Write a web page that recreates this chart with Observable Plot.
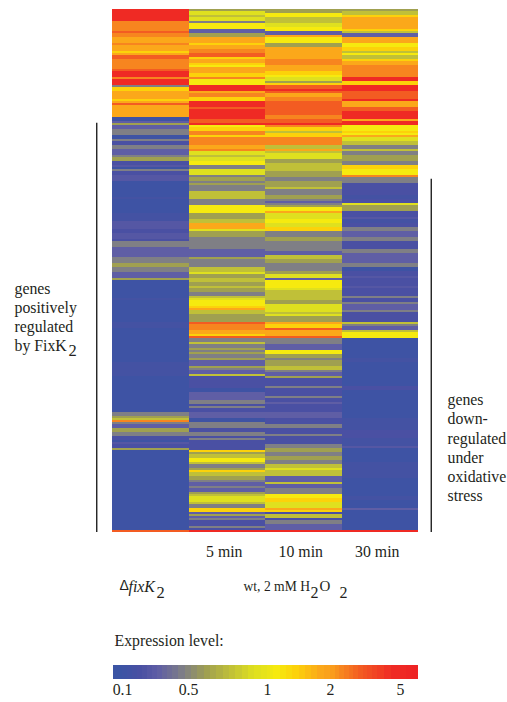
<!DOCTYPE html>
<html>
<head>
<meta charset="utf-8">
<script src="https://cdn.jsdelivr.net/npm/d3@7"></script>
<script src="https://cdn.jsdelivr.net/npm/@observablehq/plot@0.6"></script>
<style>
html,body{margin:0;padding:0;background:#fff}
svg{display:block}
</style>
</head>
<body>
<script>
// expression levels used for reading the picture
const B=0.1,D=0.15,P=0.2,U=0.25,V=0.3,G=0.45,O=0.6,K=0.75,L=0.9,Y=1.1,H=1.4,A=1.8,N=2.4,T=3.2,R=4.5;

const columns=["ΔfixK2","5 min","10 min","30 min"];
const timeLabels=["5 min","10 min","30 min"];
const rowCount=262;

// [first row, expression level] runs, top to bottom
const fixK2Runs=[[0,R],[6,N],[11,T],[12,N],[14,A],[17,N],[18,A],[21,H],[22,A],[23,T],[25,N],[30,T],[31,R],[34,N],[35,R],[38,G],[39,H],[41,A],[45,H],[46,A],[47,T],[48,A],[54,B],[56,V],[57,O],[58,V],[60,G],
[63,B],[65,G],[66,P],[68,G],[70,V],[73,G],[74,O],[76,P],[78,U],[79,B],[80,G],[81,P],[83,U],[86,B],[94,D],[95,B],[102,D],[106,U],[110,P],[112,U],[115,P],[116,G],[119,V],[124,G],[127,O],[129,G],
[132,V],[135,O],[136,B],[145,D],[146,B],[157,D],[160,B],[177,D],[184,B],[202,G],[204,O],[205,K],[206,N],[207,G],[208,V],[210,O],[212,G],[214,P],[216,B],[217,U],[218,P],[220,O],[221,B],[261,T]];

const min5Runs=[[0,O],[1,L],[3,K],[4,L],[6,G],[7,Y],[10,V],[12,O],[14,A],[17,H],[18,A],[20,N],[22,T],[24,H],[25,A],[27,H],[28,Y],[29,A],[32,H],[34,N],[35,Y],[38,R],[41,A],[42,N],[44,H],[46,R],[49,T],[50,R],[55,T],[57,R],[58,Y],[59,H],[61,N],
[63,H],[64,N],[68,A],[70,N],[71,L],[73,K],[74,L],[76,Y],[78,G],[80,L],[83,G],[84,O],[86,G],[87,O],[88,G],[91,K],[95,G],[98,Y],[102,O],[105,K],[107,A],[110,L],[111,O],[114,G],[120,V],[122,V],[124,O],[125,G],[129,K],
[132,L],[133,O],[135,K],[137,O],[139,K],[140,O],[142,G],[144,K],[145,L],[146,Y],[149,H],[150,A],[151,K],[153,O],[157,T],[158,N],[161,A],[163,H],[164,T],[165,G],[167,K],[168,G],[170,O],[171,G],[172,O],[173,G],[175,O],[176,V],[179,O],[180,G],[181,V],[183,K],[184,P],[190,B],[192,V],[196,G],
[198,P],[199,G],[200,P],[202,V],[205,B],[207,G],[210,P],[212,G],[214,P],[215,G],[216,P],[221,H],[222,O],[223,K],[225,Y],[227,K],[228,G],[230,O],[231,H],[232,K],[234,O],[236,G],[237,V],[239,G],[240,V],[242,O],[243,K],[244,L],[247,K],[248,G],[250,H],[252,V],[253,O],[254,V],[255,G],[256,P],[259,G],[260,P],[261,R]];

const min10Runs=[[0,O],[2,Y],[4,K],[7,L],[9,Y],[11,V],[13,A],[14,Y],[17,O],[19,A],[25,N],[28,A],[31,H],[33,Y],[34,L],[36,O],[37,H],[38,T],[40,R],[41,T],[42,A],[44,N],[46,T],[53,N],[55,T],[57,R],[58,N],[59,H],[61,K],[62,H],
[64,N],[68,K],[70,A],[71,K],[72,L],[75,O],[77,K],[81,O],[84,G],[86,O],[89,K],[90,G],[93,O],[95,G],[96,V],[97,G],[98,O],[99,Y],[101,A],[102,L],[105,Y],[107,L],[109,H],[111,G],[114,O],[116,G],[121,V],[123,K],[125,O],[127,G],
[131,O],[133,L],[135,V],[136,Y],[140,L],[141,K],[145,K],[146,O],[148,L],[152,K],[153,L],[154,O],[157,A],[158,H],[160,T],[161,A],[164,T],[165,G],[168,V],[171,Y],[173,O],[175,G],[176,O],[179,K],[181,G],[182,V],[184,O],[185,P],[189,G],[190,P],[194,G],[195,P],[197,V],
[198,P],[202,V],[205,P],[208,G],[210,P],[213,G],[214,P],[218,G],[220,O],[222,G],[224,O],[226,G],[228,K],[230,L],[231,K],[234,V],[237,K],[238,V],[240,G],[243,Y],[245,H],[247,L],[250,A],[251,H],[252,P],[253,K],[255,P],[256,G],[258,V],[261,R]];

const min30Runs=[[0,O],[1,K],[3,H],[4,A],[10,H],[11,K],[12,V],[14,A],[17,Y],[19,H],[21,K],[22,Y],[23,K],[25,H],[26,A],[28,N],[34,R],[36,H],[38,R],[41,T],[45,R],[46,A],[49,T],[51,R],[55,A],[56,R],[58,Y],[61,H],[62,Y],
[63,A],[64,L],[66,K],[68,G],[70,K],[71,G],[73,O],[76,G],[78,H],[80,Y],[83,N],[84,G],[87,P],[93,D],[95,P],[97,L],[98,O],[101,P],[104,U],[105,D],[107,P],[109,G],[111,V],[114,G],[116,P],[120,G],[122,V],[127,G],[129,B],
[131,P],[134,U],[135,P],[139,U],[140,P],[144,G],[145,P],[147,G],[148,V],[151,G],[152,P],[157,K],[158,G],[159,V],[161,K],[162,Y],[165,B],[175,D],[177,B],[189,P],[191,B],
[205,D],[211,P],[215,D],[219,U],[220,B],[227,D],[235,B],[244,D],[246,B],[250,V],[251,B],[261,R]];

const columnRuns=[fixK2Runs,min5Runs,min10Runs,min30Runs];

// colour scale stops
const colorStops=[0.08,0.2,0.3,0.45,0.6,0.75,0.9,1.1,1.4,1.8,2.4,3.2,4.5,6.5];
const colorHexes=["#3b54a4","#4a50a3","#5f5ea5","#7f7f85","#a0a050","#c0c038","#dfe01f","#f6ea0f","#fcd20a","#fba81a","#f7851f","#f35c22","#ef2a24","#ed2024"];
const legendTicks=[0.1,0.5,1,2,5];
const legendSteps=[0.08,0.1,0.13,0.16,0.19,0.22,0.25,0.28,0.31,0.34,0.37,0.4,0.44,0.48,0.52,0.56,0.6,0.64,0.68,0.72,0.76,0.8,0.84,0.88,0.92,0.96,1,1.05,1.1,1.2,1.3,1.4,1.5,1.6,1.7,1.8,1.9,2,2.2,2.4,2.6,2.8,3,3.2,3.4,3.6,3.8,4,4.3,4.6,5,5.5,6,6.5];

const cells=[];
columns.forEach((column,c)=>{
  const runs=columnRuns[c];
  for(let row=0,r=0;row<rowCount;row++){
    while(r+1<runs.length&&runs[r+1][0]<=row) r++;
    cells.push({column,row,value:runs[r][1]});
  }
});

const serif="'Liberation Serif',serif";
const ink="#231f20";
const fs=15.8;
const colorScale={type:"linear",domain:colorStops,range:colorHexes,clamp:true};
const F={left:112,top:9};
const note=(s,x,y,o={})=>Plot.text([s],{frameAnchor:"top-left",dx:x-F.left,dy:y-F.top,textAnchor:"start",lineAnchor:"top",fontSize:fs,fill:ink,...o});

const main=Plot.plot({
  width:507,height:620,marginTop:9,marginBottom:88,marginLeft:112,marginRight:89,
  style:{fontFamily:serif,background:"white",color:ink},
  x:{type:"band",domain:columns,range:[112,418],padding:0,round:false},
  y:{type:"band",domain:d3.range(rowCount),range:[9,532],padding:0,round:false,axis:null},
  color:colorScale,
  marks:[
    Plot.cell(cells,{x:"column",y:"row",fill:"value",shapeRendering:"crispEdges"}),
    Plot.axisX({ticks:timeLabels,tickSize:0,tickPadding:13,fontSize:fs,dx:-3,label:null,fill:ink}),
    Plot.ruleX([columns[0]],{x:d=>d,y1:[57],y2:[261],dx:-54,stroke:"#111",strokeWidth:1.3}),
    Plot.ruleX([columns[3]],{x:d=>d,y1:[85],y2:[261],dx:51,stroke:"#111",strokeWidth:1.3}),
    note("genes\npositively\nregulated\nby FixK",14,280,{lineHeight:1.2}),
    note("2",68,344,{fontSize:16.5}),
    note("genes\ndown-\nregulated\nunder\noxidative\nstress",447,391,{lineHeight:1.215}),
    note("Δ",119,580,{fontFamily:"'Liberation Sans',sans-serif",fontSize:14}),
    note("fixK",128,580,{fontStyle:"italic"}),
    note("2",156,586,{fontSize:16.5}),
    note("wt, 2 mM H",243,581,{fontSize:13.6}),
    note("2",310,586,{fontSize:16}),
    note("O",319,580,{fontSize:15}),
    note("2",339,586,{fontSize:16})
  ]
});

const legend=Plot.plot({
  width:507,height:82,marginTop:45,marginBottom:23,marginLeft:113,marginRight:89,
  style:{fontFamily:serif,background:"white",color:ink},
  x:{type:"linear",domain:[0.08,0.1,0.5,1,2,5,6.5],range:[113,122,188,267,330,400,418]},
  y:{domain:[0,1],axis:null},
  color:colorScale,
  marks:[
    Plot.rect(legendSteps.slice(0,-1),{x1:d=>d,x2:(d,i)=>legendSteps[i+1],y1:0,y2:1,fill:d=>d,shapeRendering:"crispEdges"}),
    Plot.axisX({ticks:legendTicks,tickSize:0,tickPadding:4,fontSize:fs,label:null,tickFormat:d=>String(d),fill:ink}),
    Plot.text(["Expression level:"],{frameAnchor:"top-left",dx:1,dy:-25,textAnchor:"start",lineAnchor:"middle",fontSize:fs,fill:ink})
  ]
});

document.body.append(main,legend);
</script>
</body>
</html>
